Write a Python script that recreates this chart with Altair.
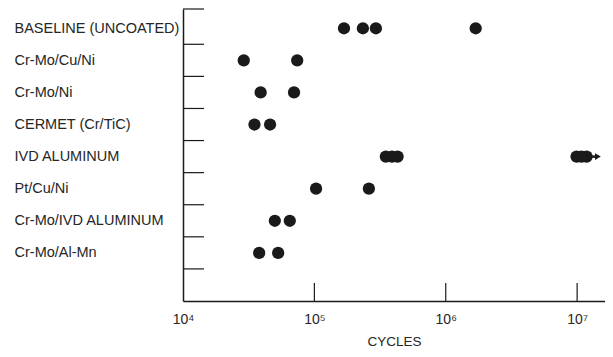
import json
import altair as alt
import pandas as pd

# ---- data ----
coatings = [
    "BASELINE (UNCOATED)",
    "Cr-Mo/Cu/Ni",
    "Cr-Mo/Ni",
    "CERMET (Cr/TiC)",
    "IVD ALUMINUM",
    "Pt/Cu/Ni",
    "Cr-Mo/IVD ALUMINUM",
    "Cr-Mo/Al-Mn",
]
baseline = [1.68e5, 2.34e5, 2.94e5, 1.69e6]
crmo_cu_ni = [2.9e4, 7.4e4]
crmo_ni = [3.9e4, 7.0e4]
cermet = [3.5e4, 4.6e4]
ivd_al = [3.5e5, 3.9e5, 4.3e5, 9.9e6, 1.08e7, 1.18e7]
pt_cu_ni = [1.03e5, 2.6e5]
crmo_ivd_al = [5.0e4, 6.5e4]
crmo_al_mn = [3.8e4, 5.3e4]
series = [baseline, crmo_cu_ni, crmo_ni, cermet, ivd_al, pt_cu_ni, crmo_ivd_al, crmo_al_mn]

# run-out (test stopped without failure) arrow on IVD aluminum
runout_row = 4
runout_from = 1.18e7
runout_to = 1.44e7

x_ticks = [1e4, 1e5, 1e6, 1e7]
x_tick_labels = ["10⁴", "10⁵", "10⁶", "10⁷"]
row_edges = [-0.1, 1, 2, 3, 4, 5, 6, 7, 8]

# ---- tables ----
pts = pd.DataFrame(
    [{"y": i + 0.5, "x": v} for i, vals in enumerate(series) for v in vals]
)
arrow_line = pd.DataFrame([{"y": runout_row + 0.5, "x": runout_from, "x2": runout_to}])
arrow_head = pd.DataFrame([{"y": runout_row + 0.5, "x": runout_to}])
edges = pd.DataFrame({"y": row_edges})
xt = pd.DataFrame({"x": x_ticks[1:]})

W, H = 422, 292
INK = "#1a1a1a"
TXT = "#262626"

xscale = alt.Scale(type="log", domain=[1e4, 1.63e7], nice=False)
yscale = alt.Scale(domain=[-0.1, 9], reverse=True, nice=False, zero=False)

ylabel_expr = json.dumps(coatings, ensure_ascii=False) + "[floor(datum.value)]"
xlabel_expr = json.dumps(x_tick_labels, ensure_ascii=False) + "[round(log(datum.value)/LN10)-4]"

xaxis = alt.Axis(
    values=x_ticks, labelExpr=xlabel_expr, title="CYCLES", ticks=False, tickSize=0,
    labelFlush=False, labelPadding=11, labelFontSize=14, titleFontSize=13.5, titlePadding=8,
    titleFontWeight="normal", grid=False, domainColor=INK, domainWidth=1.5,
    labelColor=TXT, titleColor=TXT, labelFont="Liberation Sans", titleFont="Liberation Sans",
)
yaxis = alt.Axis(
    values=[i + 0.5 for i in range(len(coatings))], labelExpr=ylabel_expr, title=None,
    ticks=False, tickSize=0, labelAlign="left", labelPadding=169, labelFontSize=14.5,
    labelFont="Liberation Sans", labelColor=TXT, grid=False, domainColor=INK, domainWidth=1.5,
)

points = alt.Chart(pts).mark_point(filled=True, size=150, opacity=1, color=INK).encode(
    x=alt.X("x:Q", scale=xscale, axis=xaxis),
    y=alt.Y("y:Q", scale=yscale, axis=yaxis),
)

line = alt.Chart(arrow_line).mark_rule(color=INK, strokeWidth=2.5).encode(
    x=alt.X("x:Q", scale=xscale), x2="x2:Q", y=alt.Y("y:Q", scale=yscale)
)
head = alt.Chart(arrow_head).mark_point(
    shape="triangle-right", filled=True, size=45, opacity=1, color=INK
).encode(x=alt.X("x:Q", scale=xscale), y=alt.Y("y:Q", scale=yscale))

yticks = alt.Chart(edges).mark_rule(color=INK, strokeWidth=1.2).encode(
    y=alt.Y("y:Q", scale=yscale), x=alt.value(0), x2=alt.value(21)
)
xticks = alt.Chart(xt).mark_rule(color=INK, strokeWidth=1.2).encode(
    x=alt.X("x:Q", scale=xscale), y=alt.value(H - 18), y2=alt.value(H)
)

chart = (
    alt.layer(points, line, head, yticks, xticks)
    .properties(width=W, height=H, padding={"left": 6, "top": 0, "right": 0, "bottom": 0},
                background="white")
    .configure_view(stroke=None)
)

chart.save("out.html", embed_options={"renderer": "svg", "actions": False})
